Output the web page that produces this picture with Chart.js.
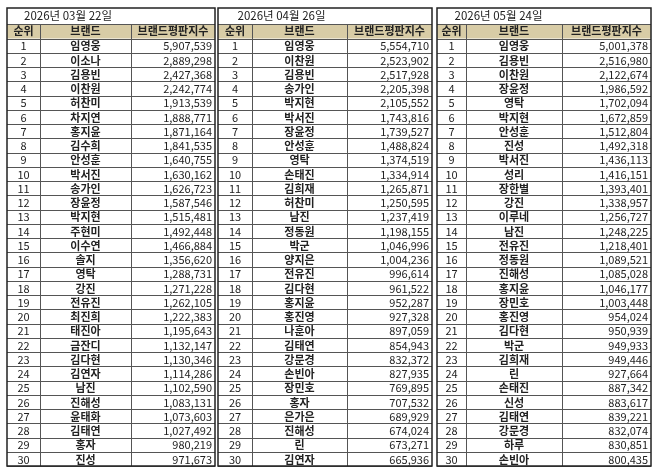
<!DOCTYPE html>
<html><head><meta charset="utf-8">
<script src="https://cdn.jsdelivr.net/npm/chart.js@4"></script>
<style>html,body{margin:0;padding:0;background:#fff}#c{display:block}</style>
</head><body>
<div style="width:658px;height:474px"><canvas id="c"></canvas></div>
<script>
const dates = ["2026년 03월 22일","2026년 04월 26일","2026년 05월 24일"];
const headers = ["순위","브랜드","브랜드평판지수"];
const ranks = Array.from({length:30},(_, i)=>String(i+1));
const names1 = ["임영웅","이소나","김용빈","이찬원","허찬미","차지연","홍지윤","김수희","안성훈","박서진","송가인","장윤정","박지현","주현미","이수연","솔지","영탁","강진","전유진","최진희","태진아","금잔디","김다현","김연자","남진","진해성","윤태화","김태연","홍자","진성"];
const scores1 = [5907539,2889298,2427368,2242774,1913539,1888771,1871164,1841535,1640755,1630162,1626723,1587546,1515481,1492448,1466884,1356620,1288731,1271228,1262105,1222383,1195643,1132147,1130346,1114286,1102590,1083131,1073603,1027492,980219,971673];
const names2 = ["임영웅","이찬원","김용빈","송가인","박지현","박서진","장윤정","안성훈","영탁","손태진","김희재","허찬미","남진","정동원","박군","양지은","전유진","김다현","홍지윤","홍진영","나훈아","김태연","강문경","손빈아","장민호","홍자","은가은","진해성","린","김연자"];
const scores2 = [5554710,2523902,2517928,2205398,2105552,1743816,1739527,1488824,1374519,1334914,1265871,1250595,1237419,1198155,1046996,1004236,996614,961522,952287,927328,897059,854943,832372,827935,769895,707532,689929,674024,673271,665936];
const names3 = ["임영웅","김용빈","이찬원","장윤정","영탁","박지현","안성훈","진성","박서진","성리","장한별","강진","이루네","남진","전유진","정동원","진해성","홍지윤","장민호","홍진영","김다현","박군","김희재","린","손태진","신성","김태연","강문경","하루","손빈아"];
const scores3 = [5001378,2516980,2122674,1986592,1702094,1672859,1512804,1492318,1436113,1416151,1393401,1338957,1256727,1248225,1218401,1089521,1085028,1046177,1003448,954024,950939,949933,949446,927664,887342,883617,839221,832074,830851,800435];

const panels = [
  {names:names1, scores:scores1, cols:[7,40,131,215]},
  {names:names2, scores:scores2, cols:[218,252,347,432]},
  {names:names3, scores:scores3, cols:[437,466,562,651]}
];
const TOP=8, HDR=24, DATA=38.5, BOTTOM=466;
const rowH=(BOTTOM-DATA)/30;

const tablePlugin = {
  id:'table',
  afterDraw(chart){
    const ctx=chart.ctx, xs=chart.scales.x, ys=chart.scales.y;
    const X=v=>xs.getPixelForValue(v), Y=v=>ys.getPixelForValue(v);
    const fmt=n=>n.toLocaleString('en-US');
    ctx.save();
    panels.forEach((p,pi)=>{
      const [a,b,c,d]=p.cols;
      ctx.fillStyle='#d8cca6';
      ctx.fillRect(X(a),Y(HDR),X(d)-X(a),Y(DATA)-Y(HDR));
      ctx.strokeStyle='#555'; ctx.lineWidth=1;
      ctx.beginPath();
      for(let r=0;r<=30;r++){const y=Math.round(Y(DATA+r*rowH))+0.5;ctx.moveTo(X(a),y);ctx.lineTo(X(d),y);}
      const yh=Math.round(Y(HDR))+0.5; ctx.moveTo(X(a),yh);ctx.lineTo(X(d),yh);
      [b,c].forEach(x=>{const xx=Math.round(X(x))+0.5;ctx.moveTo(xx,Y(HDR));ctx.lineTo(xx,Y(BOTTOM));});
      ctx.stroke();
      ctx.strokeStyle='#222'; ctx.lineWidth=1.5;
      ctx.strokeRect(X(a),Y(TOP),X(d)-X(a),Y(BOTTOM)-Y(TOP));
      ctx.fillStyle='#222'; ctx.textBaseline='middle';
      ctx.font='11.5px "Noto Sans CJK KR"'; ctx.textAlign='center';
      ctx.fillText(dates[pi],X((a+c)/2-1),Y((TOP+HDR)/2));
      ctx.font='bold 11px "Noto Sans CJK KR"';
      ctx.fillText(headers[0],X((a+b)/2),Y((HDR+DATA)/2));
      ctx.fillText(headers[1],X((b+c)/2),Y((HDR+DATA)/2));
      ctx.fillText(headers[2],X((c+d)/2),Y((HDR+DATA)/2));
      for(let r=0;r<30;r++){
        const yc=Y(DATA+(r+0.5)*rowH)+0.5;
        ctx.textAlign='center'; ctx.font='11px "Noto Sans CJK KR"';
        ctx.fillText(ranks[r],X((a+b)/2),yc);
        ctx.font='bold 11px "Noto Sans CJK KR"';
        ctx.fillText(p.names[r],X((b+c)/2),yc);
        ctx.textAlign='right'; ctx.font='11px "Noto Sans CJK KR"';
        ctx.fillText(fmt(p.scores[r]),X(d-3),yc);
      }
    });
    ctx.restore();
  }
};

new Chart(document.getElementById('c'),{
  type:'scatter',
  data:{datasets:[{data:[],pointRadius:0}]},
  options:{
    responsive:true, maintainAspectRatio:false, animation:false,
    layout:{padding:0},
    plugins:{legend:{display:false},tooltip:{enabled:false}},
    scales:{
      x:{type:'linear',min:0,max:658,display:false},
      y:{type:'linear',min:0,max:474,reverse:true,display:false}
    }
  },
  plugins:[tablePlugin]
});
</script>
</body></html>
